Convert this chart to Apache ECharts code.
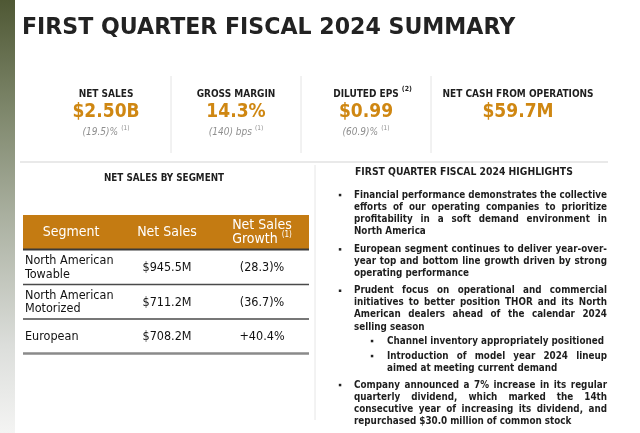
<!DOCTYPE html>
<html><head><meta charset="utf-8">
<script src="https://cdn.jsdelivr.net/npm/echarts@6/dist/echarts.min.js"></script>
<style>html,body{margin:0;padding:0;background:#fff}#c{width:640px;height:433px}</style>
</head><body><div id="c"></div>
<script>
// ---- data ----
const pageTitle = 'FIRST QUARTER FISCAL 2024 SUMMARY';
const kpiLabels = ['NET SALES', 'GROSS MARGIN', 'DILUTED EPS', 'NET CASH FROM OPERATIONS'];
const kpiLabelNotes = ['', '', '(2)', ''];
const kpiValues = ['$2.50B', '14.3%', '$0.99', '$59.7M'];
const kpiChanges = ['(19.5)%', '(140) bps', '(60.9)%', ''];
const kpiChangeNotes = ['(1)', '(1)', '(1)', ''];
const tableTitle = 'NET SALES BY SEGMENT';
const tableHeaders = ['Segment', 'Net Sales', 'Net Sales', 'Growth'];
const headerNote = '(1)';
const segments = [['North American', 'Towable'], ['North American', 'Motorized'], ['European']];
const netSales = ['$945.5M', '$711.2M', '$708.2M'];
const salesGrowth = ['(28.3)%', '(36.7)%', '+40.4%'];
const highlightsTitle = 'FIRST QUARTER FISCAL 2024 HIGHLIGHTS';
const highlights = [
  {level: 0, lines: ['Financial performance demonstrates the collective', 'efforts of our operating companies to prioritize', 'profitability in a soft demand environment in', 'North America']},
  {level: 0, lines: ['European segment continues to deliver year-over-', 'year top and bottom line growth driven by strong', 'operating performance']},
  {level: 0, lines: ['Prudent focus on operational and commercial', 'initiatives to better position THOR and its North', 'American dealers ahead of the calendar 2024', 'selling season']},
  {level: 1, lines: ['Channel inventory appropriately positioned']},
  {level: 1, lines: ['Introduction of model year 2024 lineup', 'aimed at meeting current demand']},
  {level: 0, lines: ['Company announced a 7% increase in its regular', 'quarterly dividend, which marked the 14th', 'consecutive year of increasing its dividend, and', 'repurchased $30.0 million of common stock']}
];

// ---- layout ----
const COND = '"DejaVu Sans Condensed", "DejaVu Sans", sans-serif';
const WIDE = '"DejaVu Sans", Verdana, sans-serif';
const ORANGE = '#cf8712';
const HEAD_ORANGE = '#c47b12';
const DARK = '#1e1e1e';
const kpiCenters = [106, 236, 366, 518];
const kpiDividers = [171, 301, 431];
const paraY = [195, 249.3, 290.7, 341, 356, 385];
const lineH = 12.1;

const cv = document.createElement('canvas').getContext('2d');
function mw(text, font) { cv.font = font; return cv.measureText(text).width; }

const els = [];
// left gradient strip
els.push({type: 'rect', shape: {x: 0, y: 0, width: 15, height: 433}, silent: true,
  style: {fill: new echarts.graphic.LinearGradient(0, 0, 0, 1, [
    {offset: 0, color: '#4f5834'}, {offset: 0.25, color: '#7d866a'}, {offset: 0.5, color: '#aab0a0'},
    {offset: 0.8, color: '#dcdedb'}, {offset: 1, color: '#f4f4f3'}])}});
// title
els.push({type: 'text', x: 22, y: 28, style: {text: pageTitle, font: 'bold 22.1px ' + WIDE, fill: '#222', align: 'left', verticalAlign: 'middle'}});

// KPI
kpiDividers.forEach(x => els.push({type: 'line', shape: {x1: x, y1: 76, x2: x, y2: 153}, style: {stroke: '#e4e4e4', lineWidth: 1}}));
kpiLabels.forEach((lab, i) => {
  const cx = kpiCenters[i];
  const f = 'bold 10px ' + COND;
  const w = mw(lab, f);
  let x0 = cx - w / 2;
  els.push({type: 'text', x: x0, y: 94, style: {text: lab, font: f, fill: DARK, align: 'left', verticalAlign: 'middle'}});
  if (kpiLabelNotes[i]) {
    els.push({type: 'text', x: x0 + w + 3, y: 89, style: {text: kpiLabelNotes[i], font: 'bold 7px ' + COND, fill: DARK, align: 'left', verticalAlign: 'middle'}});
  }
  els.push({type: 'text', x: cx, y: 112, style: {text: kpiValues[i], font: 'bold 19px ' + COND, fill: ORANGE, align: 'center', verticalAlign: 'middle'}});
  if (kpiChanges[i]) {
    const f2 = 'italic 10px ' + COND;
    const w2 = mw(kpiChanges[i], f2);
    const f3 = '6.5px ' + COND;
    const w3 = mw(kpiChangeNotes[i], f3);
    const tot = w2 + 3 + w3;
    const sx = cx - tot / 2;
    els.push({type: 'text', x: sx, y: 132, style: {text: kpiChanges[i], font: f2, fill: '#8f8f8f', align: 'left', verticalAlign: 'middle'}});
    els.push({type: 'text', x: sx + w2 + 3, y: 128, style: {text: kpiChangeNotes[i], font: f3, fill: '#8f8f8f', align: 'left', verticalAlign: 'middle'}});
  }
});

// separators
els.push({type: 'line', shape: {x1: 20, y1: 162, x2: 608, y2: 162}, style: {stroke: '#e2e2e2', lineWidth: 1.5}});
els.push({type: 'line', shape: {x1: 315, y1: 165, x2: 315, y2: 420}, style: {stroke: '#e6e6e6', lineWidth: 1}});

// table
els.push({type: 'text', x: 164, y: 178, style: {text: tableTitle, font: 'bold 9.8px ' + COND, fill: DARK, align: 'center', verticalAlign: 'middle'}});
const tx0 = 23, tx1 = 309;
const colC = [71, 167, 262];
const rowB = [249.5, 284.5, 319, 353.5];
els.push({type: 'rect', shape: {x: tx0, y: 215, width: tx1 - tx0, height: 34.5}, style: {fill: HEAD_ORANGE}});
const hf = '14px ' + COND;
els.push({type: 'text', x: colC[0], y: 232, style: {text: tableHeaders[0], font: hf, fill: '#fff', align: 'center', verticalAlign: 'middle'}});
els.push({type: 'text', x: colC[1], y: 232, style: {text: tableHeaders[1], font: hf, fill: '#fff', align: 'center', verticalAlign: 'middle'}});
els.push({type: 'text', x: colC[2], y: 225.8, style: {text: tableHeaders[2], font: hf, fill: '#fff', align: 'center', verticalAlign: 'middle'}});
{
  const wg = mw(tableHeaders[3], hf), nf = '8px ' + COND, wn = mw(headerNote, nf);
  const sx = colC[2] - (wg + 4 + wn) / 2;
  els.push({type: 'text', x: sx, y: 239.5, style: {text: tableHeaders[3], font: hf, fill: '#fff', align: 'left', verticalAlign: 'middle'}});
  els.push({type: 'text', x: sx + wg + 4, y: 235, style: {text: headerNote, font: nf, fill: '#fff', align: 'left', verticalAlign: 'middle'}});
}
const lineStyles = [{c: '#3a3a3a', w: 2}, {c: '#4a4a4a', w: 1.5}, {c: '#4a4a4a', w: 1.5}, {c: '#8a8a8a', w: 2.5}];
rowB.forEach((y, i) => els.push({type: 'line', shape: {x1: tx0, y1: y, x2: tx1, y2: y}, style: {stroke: lineStyles[i].c, lineWidth: lineStyles[i].w}}));
const rf = '12.5px ' + COND;
segments.forEach((seg, i) => {
  const cy = (rowB[i] + rowB[i + 1]) / 2 + 0.8;
  els.push({type: 'text', x: 25, y: cy, style: {text: seg.join('\n'), font: rf, lineHeight: 13.3, fill: '#111', align: 'left', verticalAlign: 'middle'}});
  els.push({type: 'text', x: colC[1], y: cy, style: {text: netSales[i], font: rf, fill: '#111', align: 'center', verticalAlign: 'middle'}});
  els.push({type: 'text', x: colC[2], y: cy, style: {text: salesGrowth[i], font: rf, fill: '#111', align: 'center', verticalAlign: 'middle'}});
});

// highlights
els.push({type: 'text', x: 355, y: 172, style: {text: highlightsTitle, font: 'bold 10.3px ' + COND, fill: DARK, align: 'left', verticalAlign: 'middle'}});
const RIGHT = 607;
const hs = 10;
let SX = 0.93;
const hfont = 'bold ' + hs + 'px ' + WIDE;
// keep a modest gap between words on justified lines
highlights.forEach(p => {
  const left = p.level ? 387 : 354;
  p.lines.forEach(ln => {
    const ws = ln.split(' ');
    const sum = ws.reduce((a, w) => a + mw(w, hfont), 0);
    const need = (RIGHT - left - (ws.length - 1) * 3.0) / sum;
    if (need < SX) SX = need;
  });
});
highlights.forEach((p, pi) => {
  const left = p.level ? 387 : 354;
  const bx = p.level ? 372 : 340;
  const y0 = paraY[pi];
  els.push({type: 'rect', shape: {x: bx - 1.2, y: y0 - 1.2, width: 2.5, height: 2.5}, style: {fill: '#222'}});
  p.lines.forEach((ln, li) => {
    const y = y0 + li * lineH;
    const last = li === p.lines.length - 1;
    const ws = ln.split(' ');
    const wd = ws.map(w => mw(w, hfont) * SX);
    const sum = wd.reduce((a, b) => a + b, 0);
    const spaceW = mw(' ', hfont) * SX;
    const gap = (!last && ws.length > 1) ? (RIGHT - left - sum) / (ws.length - 1) : spaceW;
    let x = left;
    ws.forEach((w, k) => {
      els.push({type: 'text', x: x, y: y, scaleX: SX, style: {text: w, font: hfont, fill: DARK, align: 'left', verticalAlign: 'middle'}});
      x += wd[k] + gap;
    });
  });
});

const chart = echarts.init(document.getElementById('c'), null, {renderer: 'canvas'});
chart.setOption({animation: false, backgroundColor: '#fff', graphic: {elements: els}});
</script></body></html>
